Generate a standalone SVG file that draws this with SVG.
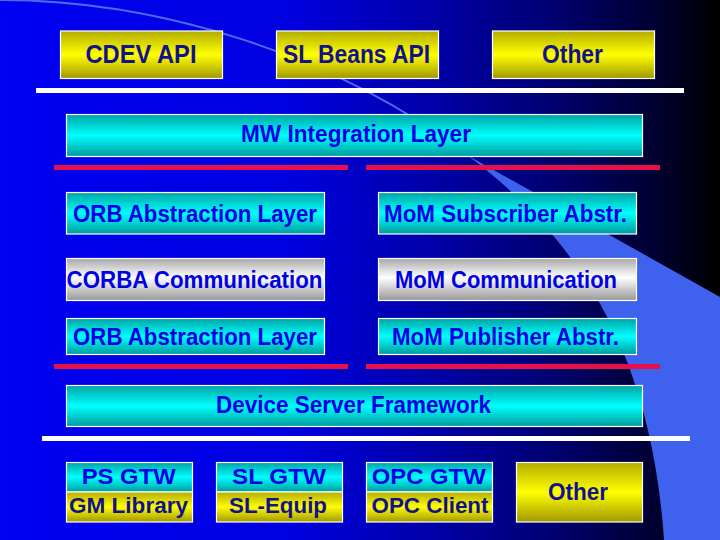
<svg xmlns="http://www.w3.org/2000/svg" width="720" height="540" viewBox="0 0 720 540">
<defs>
  <linearGradient id="bg" x1="0" y1="0" x2="1" y2="0">
    <stop offset="0" stop-color="#0000f2"/>
    <stop offset="0.4" stop-color="#0000e0"/>
    <stop offset="0.6" stop-color="#0000a8"/>
    <stop offset="0.75" stop-color="#000078"/>
    <stop offset="0.9" stop-color="#000036"/>
    <stop offset="1" stop-color="#000000"/>
  </linearGradient>
  <linearGradient id="yel" x1="0" y1="0" x2="0" y2="1">
    <stop offset="0" stop-color="#b4ac00"/>
    <stop offset="0.5" stop-color="#ffff00"/>
    <stop offset="1" stop-color="#a09800"/>
  </linearGradient>
  <linearGradient id="cyan" x1="0" y1="0" x2="0" y2="1">
    <stop offset="0" stop-color="#00a4a4"/>
    <stop offset="0.5" stop-color="#00ffff"/>
    <stop offset="1" stop-color="#009c9c"/>
  </linearGradient>
  <linearGradient id="silver" x1="0" y1="0" x2="0" y2="1">
    <stop offset="0" stop-color="#a8a8a8"/>
    <stop offset="0.45" stop-color="#ffffff"/>
    <stop offset="1" stop-color="#989898"/>
  </linearGradient>
</defs>
<style>
  .box { stroke: #ffffff; stroke-width: 1.2; }
  .y { fill: url(#yel); }
  .c { fill: url(#cyan); }
  .s { fill: url(#silver); }
  text { font-family: "Liberation Sans", Arial, sans-serif; font-weight: bold; text-anchor: middle; }
  .t { font-size: 23px; fill: #0000e6; }
  .ty { font-size: 23px; fill: #12128c; }
  .top { font-size: 25px; fill: #12128c; }
  .sm { font-size: 22px; fill: #0000e6; }
  .smy { font-size: 22px; fill: #12128c; }
  .white { stroke: #ffffff; stroke-width: 5; }
  .red { stroke: #e8104a; stroke-width: 5; }
</style>

<g id="background">
  <rect x="0" y="0" width="720" height="540" fill="url(#bg)"/>
  <path d="M467,155 L720,297 L720,540 L664,540 C650,330 560,225 467,155 Z" fill="#3e62ee"/>
  <path d="M0,0 C150,0 330,50 467,155" fill="none" stroke="#4a6cf5" stroke-width="2"/>
</g>

<g id="separators">
  <line class="white" x1="36" y1="90.5" x2="684" y2="90.5"/>
  <line class="red" x1="54" y1="167.5" x2="348" y2="167.5"/>
  <line class="red" x1="366" y1="167.5" x2="660" y2="167.5"/>
  <line class="red" x1="54" y1="366.5" x2="348" y2="366.5"/>
  <line class="red" x1="366" y1="366.5" x2="660" y2="366.5"/>
  <line class="white" x1="42" y1="438.5" x2="690" y2="438.5"/>
</g>

<g id="cdev-api">
  <rect class="box y" x="60.5" y="31" width="162" height="47.5"/>
  <text class="top" x="141" y="63" textLength="111" lengthAdjust="spacingAndGlyphs">CDEV API</text>
</g>
<g id="sl-beans-api">
  <rect class="box y" x="276.5" y="31" width="162" height="47.5"/>
  <text class="top" x="356.5" y="63" textLength="147" lengthAdjust="spacingAndGlyphs">SL Beans API</text>
</g>
<g id="other-top">
  <rect class="box y" x="492.5" y="31" width="162" height="47.5"/>
  <text class="top" x="572.5" y="63" textLength="61" lengthAdjust="spacingAndGlyphs">Other</text>
</g>

<g id="mw-integration">
  <rect class="box c" x="66.5" y="114.5" width="576" height="42"/>
  <text class="t" x="356" y="142" textLength="230" lengthAdjust="spacingAndGlyphs">MW Integration Layer</text>
</g>

<g id="orb-abstraction-top">
  <rect class="box c" x="66.5" y="192.5" width="258" height="41.5"/>
  <text class="t" x="195" y="222" textLength="244" lengthAdjust="spacingAndGlyphs">ORB Abstraction Layer</text>
</g>
<g id="mom-subscriber">
  <rect class="box c" x="378.5" y="192.5" width="258" height="41.5"/>
  <text class="t" x="505.5" y="222" textLength="243" lengthAdjust="spacingAndGlyphs">MoM Subscriber Abstr.</text>
</g>
<g id="corba-communication">
  <rect class="box s" x="66.5" y="258.5" width="258" height="42"/>
  <text class="t" x="194.5" y="288" textLength="256" lengthAdjust="spacingAndGlyphs">CORBA Communication</text>
</g>
<g id="mom-communication">
  <rect class="box s" x="378.5" y="258.5" width="258" height="42"/>
  <text class="t" x="506" y="288" textLength="222" lengthAdjust="spacingAndGlyphs">MoM Communication</text>
</g>
<g id="orb-abstraction-bottom">
  <rect class="box c" x="66.5" y="318.5" width="258" height="36"/>
  <text class="t" x="195" y="344.5" textLength="244" lengthAdjust="spacingAndGlyphs">ORB Abstraction Layer</text>
</g>
<g id="mom-publisher">
  <rect class="box c" x="378.5" y="318.5" width="258" height="36"/>
  <text class="t" x="505.5" y="344.5" textLength="227" lengthAdjust="spacingAndGlyphs">MoM Publisher Abstr.</text>
</g>

<g id="device-server-framework">
  <rect class="box c" x="66.5" y="385.5" width="576" height="41"/>
  <text class="t" x="353.5" y="413" textLength="275" lengthAdjust="spacingAndGlyphs">Device Server Framework</text>
</g>

<g id="ps-gtw">
  <rect class="box c" x="66.5" y="462.5" width="126" height="29.5"/>
  <rect class="box y" x="66.5" y="492" width="126" height="30"/>
  <text class="sm" x="128.7" y="484" textLength="94" lengthAdjust="spacingAndGlyphs">PS GTW</text>
  <text class="smy" x="128.5" y="513" textLength="119" lengthAdjust="spacingAndGlyphs">GM Library</text>
</g>
<g id="sl-gtw">
  <rect class="box c" x="216.5" y="462.5" width="126" height="29.5"/>
  <rect class="box y" x="216.5" y="492" width="126" height="30"/>
  <text class="sm" x="279" y="484" textLength="94" lengthAdjust="spacingAndGlyphs">SL GTW</text>
  <text class="smy" x="278" y="513" textLength="98" lengthAdjust="spacingAndGlyphs">SL-Equip</text>
</g>
<g id="opc-gtw">
  <rect class="box c" x="366.5" y="462.5" width="126" height="29.5"/>
  <rect class="box y" x="366.5" y="492" width="126" height="30"/>
  <text class="sm" x="428.7" y="484" textLength="114" lengthAdjust="spacingAndGlyphs">OPC GTW</text>
  <text class="smy" x="430" y="513" textLength="117" lengthAdjust="spacingAndGlyphs">OPC Client</text>
</g>
<g id="other-bottom">
  <rect class="box y" x="516.5" y="462.5" width="126" height="59.5"/>
  <text class="ty" x="578" y="500" textLength="60" lengthAdjust="spacingAndGlyphs">Other</text>
</g>
</svg>
